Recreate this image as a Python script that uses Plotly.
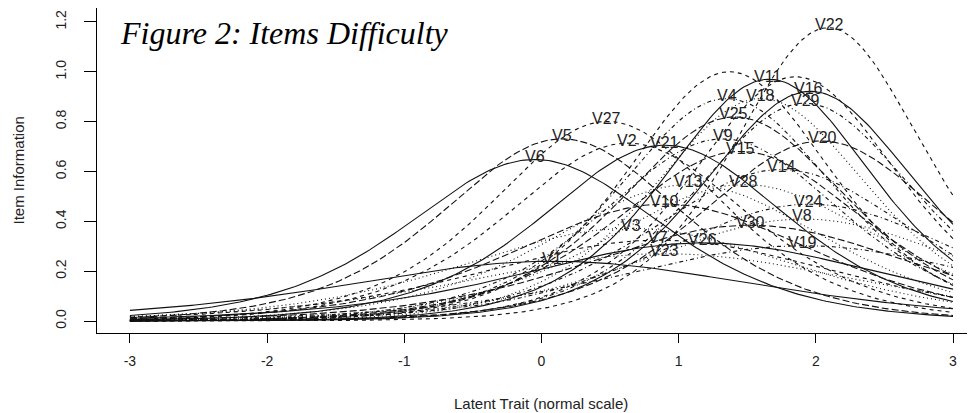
import numpy as np
import plotly.graph_objects as go

# Item parameters (2PL: location of peak, discrimination)
items = ["V1", "V2", "V3", "V4", "V5", "V6", "V7", "V8", "V9", "V10",
         "V11", "V12", "V13", "V14", "V15", "V16", "V17", "V18", "V19", "V20",
         "V21", "V22", "V23", "V24", "V25", "V26", "V27", "V28", "V29", "V30"]
difficulty = [0.08, 0.63, 0.64, 1.35, 0.15, -0.05, 0.86, 1.91, 1.32, 0.90,
              1.66, 1.37, 1.08, 1.75, 1.45, 1.96, 1.85, 1.60, 1.91, 2.04,
              0.90, 2.09, 0.90, 1.96, 1.41, 1.18, 0.48, 1.48, 1.92, 1.52]
discrimination = [0.98, 1.69, 1.22, 1.89, 1.71, 1.61, 1.14, 1.28, 1.71, 1.37,
                  1.97, 2.00, 1.48, 1.56, 1.65, 1.92, 1.98, 1.89, 1.10, 1.70,
                  1.68, 2.17, 1.04, 1.37, 1.81, 1.12, 1.79, 1.48, 1.87, 1.24]
unlabeled = ["V12", "V17"]

x_ticks = [-3, -2, -1, 0, 1, 2, 3]
x_tick_text = ["-3", "-2", "-1", "0", "1", "2", "3"]
y_ticks = [0.0, 0.2, 0.4, 0.6, 0.8, 1.0, 1.2]
y_tick_text = ["0.0", "0.2", "0.4", "0.6", "0.8", "1.0", "1.2"]

title_text = "Figure 2: Items Difficulty"
x_title = "Latent Trait (normal scale)"
y_title = "Item Information"

dashes = ["solid", "4px,4px", "1px,3px", "1px,3px,4px,3px", "7px,3px"]

theta = np.linspace(-3, 3, 241)

fig = go.Figure()
annotations = []
for i, (name, b, a) in enumerate(zip(items, difficulty, discrimination)):
    p = 1.0 / (1.0 + np.exp(-a * (theta - b)))
    info = a * a * p * (1 - p)
    fig.add_trace(go.Scatter(
        x=theta, y=info, mode="lines", name=name, showlegend=False,
        line=dict(color="#111111", width=1.1, dash=dashes[i % len(dashes)]),
        hoverinfo="skip"))
    if name not in unlabeled:
        k = int(np.argmax(info))
        annotations.append(dict(
            x=theta[k], y=info[k], xref="x", yref="y", text=name,
            showarrow=False, yshift=3,
            font=dict(family="Liberation Sans, Arial", size=16, color="#222")))

# page layout (the html body adds an 8px offset on the top and left)
OFF = 8
W, H = 975, 413
plot_left, plot_top, plot_bottom = 97, 8, 333
pw = W - plot_left
ph = plot_bottom - plot_top

annotations.append(dict(
    x=(118 - plot_left) / pw, y=1 - (33 - plot_top) / ph, xref="paper", yref="paper",
    text=title_text, showarrow=False, xanchor="left", yanchor="middle",
    font=dict(family="Liberation Serif, Times New Roman", size=32, color="black",
              style="italic")))
annotations.append(dict(
    x=0, y=-(403 - plot_bottom) / ph, xref="x", yref="paper",
    text=x_title, showarrow=False, xanchor="center", yanchor="middle",
    font=dict(family="Liberation Sans, Arial", size=15, color="#222")))
annotations.append(dict(
    x=(18 - plot_left) / pw, y=0.5, xref="paper", yref="paper",
    text=y_title, showarrow=False, textangle=-90, xanchor="center", yanchor="middle",
    font=dict(family="Liberation Sans, Arial", size=15, color="#222")))

fig.update_layout(
    width=W - OFF, height=H - OFF,
    margin=dict(l=plot_left - OFF, r=0, t=plot_top - OFF, b=H - plot_bottom,
                pad=0, autoexpand=False),
    paper_bgcolor="white", plot_bgcolor="white",
    annotations=annotations,
    xaxis=dict(range=[-3.24, 3 + (W - 953) / 137.17], tickvals=x_ticks,
               ticktext=x_tick_text,
               ticks="outside", ticklen=9, tickcolor="black", tickwidth=1,
               showline=True, linecolor="black", linewidth=1, mirror=True,
               showgrid=False, zeroline=False, ticklabelstandoff=6, automargin=False,
               tickfont=dict(family="Liberation Sans, Arial", size=14, color="#222")),
    yaxis=dict(range=[-0.048, 1.256], tickvals=y_ticks, ticktext=y_tick_text,
               tickangle=-90, ticks="outside", ticklen=12, tickcolor="black",
               tickwidth=1, showline=True, linecolor="black", linewidth=1,
               mirror=False, showgrid=False, zeroline=False, ticklabelstandoff=12,
               automargin=False,
               tickfont=dict(family="Liberation Sans, Arial", size=14, color="#222")),
)

fig.write_html("out.html")
